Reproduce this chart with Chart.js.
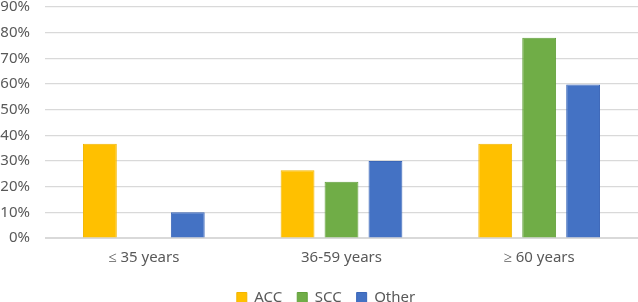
<!DOCTYPE html>
<html>
<head>
<meta charset="utf-8">
<script src="https://cdn.jsdelivr.net/npm/chart.js@4"></script>
<style>
  html, body { margin: 0; padding: 0; background: #fff; overflow: hidden; width: 638px; height: 302px; }
  #wrap { width: 638px; height: 332px; position: absolute; left: 0; top: -17px; }
</style>
</head>
<body>
<div id="wrap"><canvas id="c"></canvas></div>
<script>
const categories = ["≤ 35 years", "36-59 years", "≥ 60 years"];
const seriesNames = ["ACC", "SCC", "Other"];
const accValues = [36.7, 26.4, 36.7];
const sccValues = [0, 21.9, 78.0];
const otherValues = [10.0, 30.0, 59.8];
const yTicks = [0, 10, 20, 30, 40, 50, 60, 70, 80, 90];

const fills = ["#FFC000", "#70AD47", "#4472C4"];
const borders = ["#F2B600", "#62A03B", "#3A66B8"];
const values = [accValues, sccValues, otherValues];
const FONT = "'Noto Sans'";

const legendShift = {
  id: "legendShift",
  afterLayout(chart) { if (chart.legend) { chart.legend.left += 14; } }
};

new Chart(document.getElementById("c"), {
  type: "bar",
  data: {
    labels: categories,
    datasets: seriesNames.map((n, i) => ({
      label: n,
      data: values[i],
      backgroundColor: fills[i],
      borderColor: borders[i],
      borderWidth: 1,
      barPercentage: 0.77,
      categoryPercentage: 0.667
    }))
  },
  plugins: [legendShift],
  options: {
    responsive: true,
    maintainAspectRatio: false,
    animation: false,
    layout: { padding: { top: 6, right: 0, left: 0, bottom: 0 } },
    plugins: {
      tooltip: { enabled: false },
      legend: {
        position: "bottom",
        labels: {
          font: { family: FONT, size: 15 },
          color: "#595959",
          boxWidth: 10,
          boxHeight: 10,
          padding: 15
        }
      }
    },
    scales: {
      x: {
        grid: { display: false, drawTicks: false },
        border: { display: true, color: "#d9d9d9", width: 1 },
        ticks: { font: { family: FONT, size: 15 }, color: "#595959", padding: 11 },
        afterFit: (axis) => { axis.height = 37; }
      },
      y: {
        min: 0, max: 90,
        afterBuildTicks: (axis) => { axis.ticks = yTicks.map(v => ({ value: v })); },
        afterFit: (axis) => { axis.width = 45; },
        grid: { color: "#d9d9d9", lineWidth: 1.2, drawTicks: false },
        border: { display: false },
        ticks: {
          font: { family: FONT, size: 15 }, color: "#595959", padding: 15,
          callback: v => v + "%"
        }
      }
    }
  }
});
</script>
</body>
</html>
